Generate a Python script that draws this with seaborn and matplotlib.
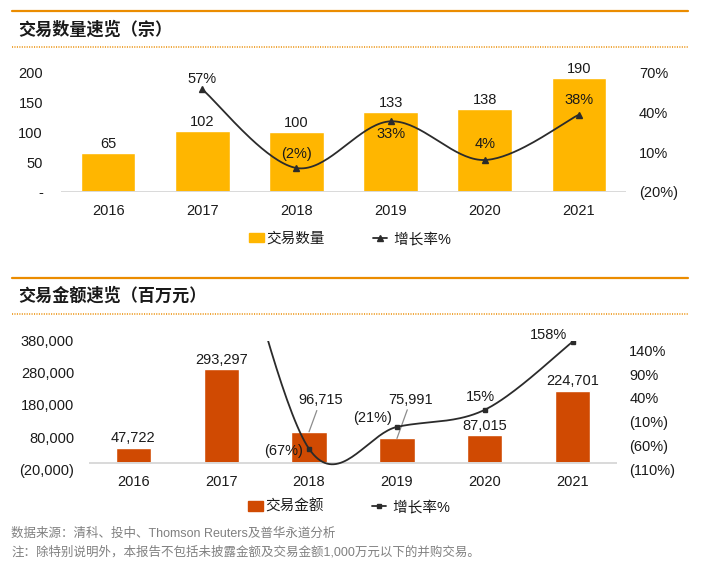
#  M&A deal overview — deal count and deal value, 2016-2021
#  Two stacked bar + smoothed growth-line panels

# ── Imports ──────────────────────────────────────────────────
import numpy as np
import matplotlib
matplotlib.use("Agg")
import matplotlib.pyplot as plt
import seaborn as sns
from matplotlib.lines import Line2D
from matplotlib.patches import Patch

# ── Data ─────────────────────────────────────────────────────
years = ["2016", "2017", "2018", "2019", "2020", "2021"]

deal_count = [65, 102, 100, 133, 138, 190]
count_growth = [None, 57, -2, 33, 4, 38]            # %

deal_value = [47722, 293297, 96715, 75991, 87015, 224701]   # 百万元
value_growth = [None, 515, -67, -21, 15, 158]       # %

count_ticks = [0, 50, 100, 150, 200]
count_growth_ticks = [-20, 10, 40, 70]
value_ticks = [-20000, 80000, 180000, 280000, 380000]
value_growth_ticks = [-110, -60, -10, 40, 90, 140]

source_note = "数据来源：清科、投中、Thomson Reuters及普华永道分析"
scope_note = "注：除特别说明外，本报告不包括未披露金额及交易金额1,000万元以下的并购交易。"

# ── Style ────────────────────────────────────────────────────
YELLOW = "#FFB600"
RUST = "#D04A02"
RULE = "#EB8C00"
LINE = "#2B2B2B"
BASE = "#D9D9D9"
NOTE = "#808080"
FS = 10.5

sns.set_theme(style="white")
plt.rcParams["font.family"] = ["Liberation Sans", "Noto Sans CJK SC", "DejaVu Sans"]
plt.rcParams["text.color"] = "#1A1A1A"
plt.rcParams["xtick.color"] = "#1A1A1A"
plt.rcParams["ytick.color"] = "#1A1A1A"

W, H = 704, 569
fig = plt.figure(figsize=(W / 100, H / 100), dpi=100)


def px_axes(left, top, right, bottom):
    return fig.add_axes([left / W, 1 - bottom / H, (right - left) / W, (bottom - top) / H])


def smooth(xs, ys, n=40):
    # Excel-style smoothed line (Catmull-Rom as cubic Bezier)
    p = np.column_stack([xs, ys]).astype(float)
    p = np.vstack([p[0], p, p[-1]])
    t = np.linspace(0, 1, n)[:, None]
    segs = []
    for i in range(1, len(p) - 2):
        p0, p1, p2, p3 = p[i - 1], p[i], p[i + 1], p[i + 2]
        c1 = p1 + (p2 - p0) / 6
        c2 = p2 - (p3 - p1) / 6
        segs.append((1 - t) ** 3 * p1 + 3 * (1 - t) ** 2 * t * c1
                    + 3 * (1 - t) * t ** 2 * c2 + t ** 3 * p2)
    seg = np.vstack(segs)
    return seg[:, 0], seg[:, 1]


def pct(v):
    return f"({abs(v)}%)" if v < 0 else f"{v}%"


def rule(y, dotted=False):
    fig.add_artist(Line2D([12 / W, 688 / W], [1 - y / H] * 2, color=RULE,
                          lw=1.1 if dotted else 1.6,
                          ls=(0, (0.7, 0.9)) if dotted else "-",
                          transform=fig.transFigure))


def clean(ax):
    for s in ax.spines.values():
        s.set_visible(False)
    ax.grid(False)
    ax.set_xlabel("")
    ax.set_ylabel("")


# ── Section headers ──────────────────────────────────────────
for y_line, y_text, y_dot, title in [(11, 30, 47, "交易数量速览（宗）"),
                                     (278, 296, 314, "交易金额速览（百万元）")]:
    rule(y_line)
    rule(y_dot, dotted=True)
    fig.text(18 / W, 1 - y_text / H, title, fontsize=12.3, fontweight="bold",
             va="center", ha="left", family=["Noto Sans CJK SC"], color="#1A1A1A")

# ── Panel 1: deal count ──────────────────────────────────────
ax1 = px_axes(61, 72, 626, 192)
sns.barplot(x=years, y=deal_count, color=YELLOW, saturation=1, width=0.58, ax=ax1)
ax1.set_xlim(-0.5, 5.5)
ax1.set_ylim(0, 200)
ax1.set_yticks(count_ticks)
ax1.set_yticklabels(["-" if v == 0 else str(v) for v in count_ticks])
ax1.tick_params(axis="y", length=0, pad=13, labelsize=FS)
ax1.tick_params(axis="x", length=0, pad=8.5, labelsize=FS)
ax1.axhline(0, color=BASE, lw=1.4, zorder=1)
clean(ax1)
for i, v in enumerate(deal_count):
    ax1.annotate(str(v), (i, v), xytext=(0, 6.5), textcoords="offset points",
                 ha="center", va="center", fontsize=FS)

ax2 = ax1.twinx()
ax2.set_ylim(-20, 70)
ax2.set_yticks(count_growth_ticks)
ax2.set_yticklabels([pct(v) for v in count_growth_ticks])
ax2.tick_params(axis="y", length=0, pad=9.4, labelsize=FS)
clean(ax2)

gx = [i for i, g in enumerate(count_growth) if g is not None]
gy = [count_growth[i] for i in gx]
sx, sy = smooth(gx, gy)
ax2.plot(sx, sy, color=LINE, lw=1.3)
ax2.plot(gx, gy, ls="none", marker="^", ms=5, color=LINE)
count_label_dy = {1: 7.6, 2: 10, 3: -8.8, 4: 11.3, 5: 10.6}
for i in gx:
    ax2.annotate(pct(count_growth[i]), (i, count_growth[i]),
                 xytext=(0, count_label_dy[i]), textcoords="offset points",
                 ha="center", va="center", fontsize=FS)

ax1.legend(handles=[Patch(color=YELLOW, label="交易数量"),
                    Line2D([], [], color=LINE, marker="^", ms=5, lw=1.3, label=" 增长率%")],
           loc="center", bbox_to_anchor=(350 / W, 1 - 239 / H),
           bbox_transform=fig.transFigure, ncol=2, frameon=False, fontsize=FS,
           handlelength=1.0, handleheight=0.6, handletextpad=0.15, columnspacing=3.3)

# ── Panel 2: deal value ──────────────────────────────────────
ax3 = px_axes(89.3, 340.7, 616.7, 469.3)
sns.barplot(x=years, y=deal_value, color=RUST, saturation=1, width=0.4, ax=ax3)
ax3.set_xlim(-0.5, 5.5)
ax3.set_ylim(-20000, 380000)
ax3.set_yticks(value_ticks)
ax3.set_yticklabels([f"({abs(v):,})" if v < 0 else f"{v:,}" for v in value_ticks])
ax3.tick_params(axis="y", length=0, pad=11, labelsize=FS)
ax3.tick_params(axis="x", length=0, pad=4, labelsize=FS)
ax3.axhline(0, color=BASE, lw=1.4, zorder=1)
clean(ax3)

value_label_off = [(0, 6.5), (0, 6), (8.3, 22.7), (10.1, 28), (0, 6.3), (0, 6.9)]
for i, v in enumerate(deal_value):
    dx, dy = value_label_off[i]
    arrow = dict(arrowstyle="-", color="#8C8C8C", lw=0.9, shrinkA=0, shrinkB=0) if dx else None
    ax3.annotate(f"{v:,}", (i, v), xytext=(dx, dy), textcoords="offset points",
                 ha="center", va="center", fontsize=FS, arrowprops=arrow)

ax4 = ax3.twinx()
ax4.set_ylim(-110, 160)
ax4.set_yticks(value_growth_ticks)
ax4.set_yticklabels([pct(v) for v in value_growth_ticks])
ax4.tick_params(axis="y", length=0, pad=9, labelsize=FS)
clean(ax4)

gx = [i for i, g in enumerate(value_growth) if g is not None]
gy = [value_growth[i] for i in gx]
sx, sy = smooth(gx, gy)
ax4.plot(sx, sy, color=LINE, lw=1.3)
ax4.plot(gx, gy, ls="none", marker="s", ms=3.5, color=LINE)
value_label_off_g = {2: (-18.4, -1.7), 3: (-17.8, 6.7), 4: (-2.9, 9.1), 5: (-17.3, 4.8)}
for i in gx:
    if i not in value_label_off_g:
        continue   # 2017 point lies above the axis range
    ax4.annotate(pct(value_growth[i]), (i, value_growth[i]),
                 xytext=value_label_off_g[i], textcoords="offset points",
                 ha="center", va="center", fontsize=FS)

ax3.legend(handles=[Patch(color=RUST, label="交易金额"),
                    Line2D([], [], color=LINE, marker="s", ms=3.5, lw=1.3, label=" 增长率%")],
           loc="center", bbox_to_anchor=(349 / W, 1 - 507 / H),
           bbox_transform=fig.transFigure, ncol=2, frameon=False, fontsize=FS,
           handlelength=1.0, handleheight=0.6, handletextpad=0.15, columnspacing=3.3)

# ── Footnotes ────────────────────────────────────────────────
fig.text(11 / W, 1 - 534 / H, source_note, fontsize=9, color=NOTE, va="center")
fig.text(11 / W, 1 - 552 / H, scope_note, fontsize=9, color=NOTE, va="center")

fig.savefig("out.png", dpi=100)
